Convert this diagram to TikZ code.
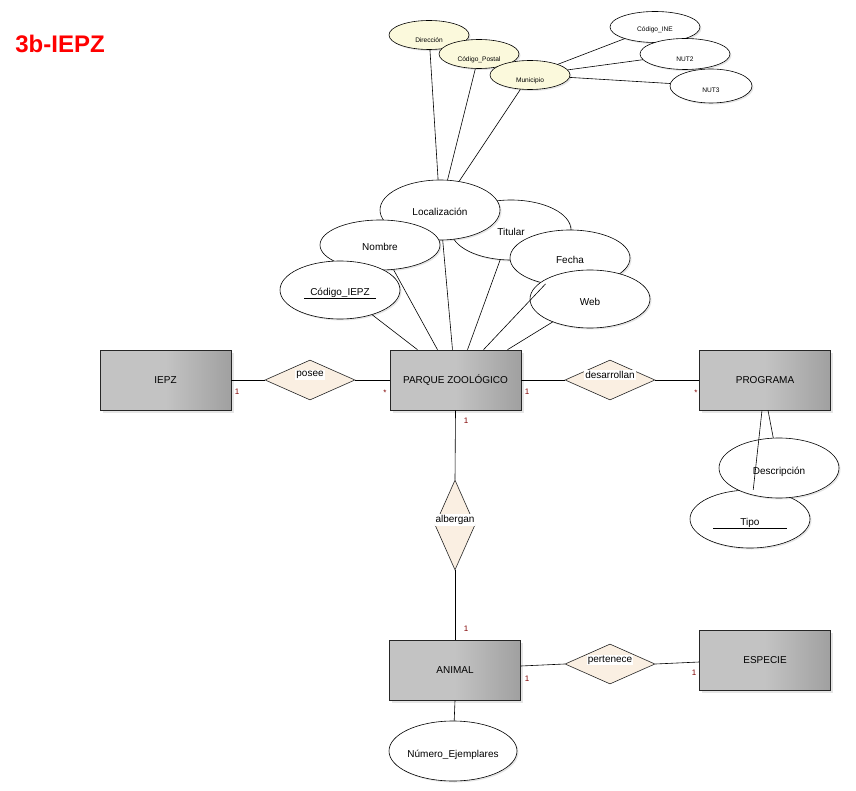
\documentclass[tikz,border=0pt]{standalone}
\usepackage{fontspec}
\setmainfont{Liberation Sans}
\usetikzlibrary{shapes.geometric,shadows}
\definecolor{entL}{HTML}{C3C3C3}
\definecolor{entR}{HTML}{A0A0A0}
\definecolor{relfill}{HTML}{FAEFE2}
\definecolor{attrY}{HTML}{FBF9DC}
\definecolor{card}{HTML}{800000}
\newcommand{\ctxt}[1]{\makebox[0pt]{\smash{\raisebox{-6pt}{#1}}}}
\newcommand{\stxt}[2][-8pt]{\makebox[0pt]{\smash{\raisebox{#1}{#2}}}}
\begin{document}
\begin{tikzpicture}[x=1pt,y=-1pt,
  entity/.style={rectangle,draw=black!85,line width=0.6pt,left color=entL,right color=entR,middle color=entL,
    minimum width=131pt,minimum height=60pt,inner sep=0pt,font=\fontsize{10}{12}\selectfont,
    drop shadow={shadow xshift=2.5pt,shadow yshift=-2.5pt,opacity=0.2}},
  rel/.style={diamond,draw=black!85,line width=0.6pt,fill=relfill,inner sep=0pt,minimum width=90pt,minimum height=40pt},
  rellabel/.style={fill=white,inner sep=1pt,font=\fontsize{10}{12}\selectfont},
  attr/.style={ellipse,draw=black,line width=0.6pt,fill=white,inner sep=0pt,font=\fontsize{10}{12}\selectfont,
    drop shadow={shadow xshift=1.5pt,shadow yshift=-1.5pt,opacity=0.2}},
  sattr/.style={ellipse,draw=black,line width=0.6pt,fill=white,inner sep=0pt,font=\fontsize{6.6}{8}\selectfont,
    drop shadow={shadow xshift=1.5pt,shadow yshift=-1.5pt,opacity=0.2}},
  yattr/.style={sattr,fill=attrY},
  card/.style={text=card,font=\fontsize{8}{9}\selectfont,inner sep=0pt},
  conn/.style={draw=black,line width=0.6pt}
]
\fill[white] (0,0) rectangle (856,791);
\useasboundingbox (0,0) rectangle (856,791);

\node[text=red,font=\fontsize{24}{27}\selectfont\bfseries] (title) at (60,44) {3b-IEPZ};

% entities
\node[entity] (iepz) at (165.5,380) {IEPZ};
\node[entity] (pz) at (455.5,380) {PARQUE ZOOLÓGICO};
\node[entity] (prog) at (765,380) {PROGRAMA};
\node[entity] (animal) at (455,670) {ANIMAL};
\node[entity] (esp) at (765,660) {ESPECIE};

% relationships
\node[rel] (posee) at (310,380) {};
\node[rel] (desa) at (610,380) {};
\node[rel,minimum width=40pt,minimum height=90pt] (alb) at (455,525) {};
\node[rel] (pert) at (610,664) {};
\node[rellabel] (poseeL) at (310,375) {posee};
\node[rellabel] (desaL) at (610,375) {desarrollan};
\node[rellabel] (albL) at (455,520) {albergan};
\node[rellabel] (pertL) at (610,660) {pertenece};

% relationship connectors
\draw[conn] (iepz.east) -- (posee.west);
\draw[conn] (posee.east) -- (pz.west);
\draw[conn] (pz.east) -- (desa.west);
\draw[conn] (desa.east) -- (prog.west);
\draw[conn] (pz.south) -- (alb.north);
\draw[conn] (alb.south) -- (animal.north);
\draw[conn] ([yshift=4pt]animal.east) -- (pert.west);
\draw[conn] (pert.east) -- ([yshift=-2pt]esp.west);

% cardinalities
\node[card] (c1) at (237,392) {1};
\node[card] (c2) at (385,393) {*};
\node[card] (c3) at (527,392) {1};
\node[card] (c4) at (696,393) {*};
\node[card] (c5) at (466,421) {1};
\node[card] (c6) at (466,629) {1};
\node[card] (c7) at (527,679) {1};
\node[card] (c8) at (694,673) {1};

% attributes of PARQUE ZOOLOGICO
\node[attr,minimum width=120pt,minimum height=60pt] (tit) at (511,230) {\ctxt{Titular}};
\node[attr,minimum width=120pt,minimum height=60pt] (loc) at (440,210) {\ctxt{Localización}};
\node[attr,minimum width=120pt,minimum height=50pt] (nom) at (380,245) {\ctxt{Nombre}};
\node[attr,minimum width=120pt,minimum height=58pt] (cod) at (340,290) {\ctxt{Código\_IEPZ}};
\node[attr,minimum width=120pt,minimum height=56pt] (fec) at (570,258) {\ctxt{Fecha}};
\node[attr,minimum width=120pt,minimum height=58pt] (web) at (590,299) {\ctxt{Web}};
\draw[conn] ([shift={(-36,8)}]cod.center) -- ++(72,0);

\draw[conn] (cod) -- ([xshift=-38pt]pz.north);
\draw[conn] (nom) -- ([xshift=-18pt]pz.north);
\draw[conn] (loc) -- ([xshift=-3pt]pz.north);
\draw[conn] (tit) -- ([xshift=12pt]pz.north);
\draw[conn] (fec) -- ([xshift=28pt]pz.north);
\draw[conn] (web) -- ([xshift=52pt]pz.north);

% composite attribute Localizacion
\node[yattr,minimum width=80pt,minimum height=29pt] (dir) at (429,35) {\stxt{Dirección}};
\node[yattr,minimum width=80pt,minimum height=29pt] (cp) at (479,54) {\stxt{Código\_Postal}};
\node[yattr,minimum width=80pt,minimum height=29pt] (mun) at (530,75) {\stxt{Municipio}};
\node[sattr,minimum width=90pt,minimum height=31pt] (ine) at (655,27) {\stxt[-5pt]{Código\_INE}};
\node[sattr,minimum width=90pt,minimum height=31pt] (nut2) at (685,54) {\stxt{NUT2}};
\node[sattr,minimum width=82pt,minimum height=34pt] (nut3) at (711,86) {\stxt[-7pt]{NUT3}};

\draw[conn] (dir) -- (loc);
\draw[conn] (cp) -- (loc);
\draw[conn] (mun) -- (loc);
\draw[conn] (mun) -- (ine);
\draw[conn] (mun) -- (nut2);
\draw[conn] (mun) -- (nut3);

% attributes of PROGRAMA
\node[attr,minimum width=120pt,minimum height=58pt] (tipo) at (750,519) {\ctxt{Tipo}};
\node[attr,minimum width=120pt,minimum height=60pt] (desc) at (779,468) {\ctxt{Descripción}};
\draw[conn] ([shift={(-37,9)}]tipo.center) -- ++(74,0);
\draw[conn] (tipo) -- ([xshift=-3pt]prog.south);
\draw[conn] (desc) -- ([xshift=3pt]prog.south);

% attribute of ANIMAL
\node[attr,minimum width=128pt,minimum height=60pt] (nej) at (453,751) {\ctxt{Número\_Ejemplares}};
\draw[conn] (animal.south) -- (nej);
\end{tikzpicture}
\end{document}
